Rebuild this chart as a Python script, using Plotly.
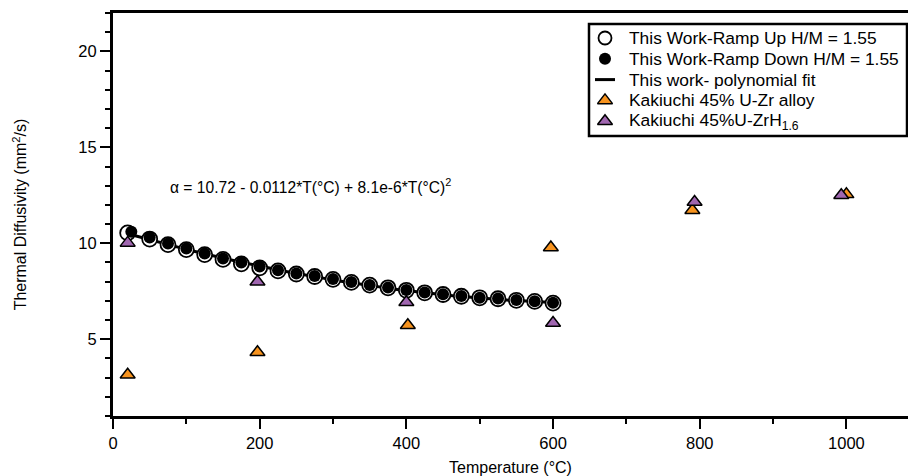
import numpy as np
import plotly.graph_objects as go

# Measured thermal diffusivity, this work (H/M = 1.55)
ramp_up_T = [20, 50, 75, 100, 125, 150, 175, 200, 225, 250, 275, 300,
             325, 350, 375, 400, 425, 450, 475, 500, 525, 550, 575, 600]
ramp_up_alpha = [10.54, 10.22, 9.93, 9.67, 9.41, 9.16, 8.93, 8.72, 8.56, 8.40, 8.27, 8.12,
                 7.96, 7.82, 7.68, 7.55, 7.42, 7.33, 7.24, 7.16, 7.11, 7.03, 6.97, 6.88]

ramp_down_T = [25, 50, 75, 100, 125, 150, 175, 200, 225, 250, 275, 300,
               325, 350, 375, 400, 425, 450, 475, 500, 525, 550, 575, 600]
ramp_down_alpha = [10.60, 10.30, 9.99, 9.73, 9.47, 9.21, 9.00, 8.79, 8.60, 8.43, 8.30, 8.14,
                   7.98, 7.83, 7.69, 7.57, 7.44, 7.34, 7.25, 7.16, 7.12, 7.04, 6.98, 6.90]

# Polynomial fit coefficients: alpha = c0 + c1*T + c2*T^2
fit_c0, fit_c1, fit_c2 = 10.72, -0.0112, 8.1e-6
fit_T_min, fit_T_max = 20, 600

# Kakiuchi reference data
uzr_T = [20, 197, 402, 597, 790, 1000]
uzr_alpha = [3.15, 4.32, 5.73, 9.78, 11.72, 12.55]

uzrh_T = [20, 197, 400, 600, 793, 993]
uzrh_alpha = [10.02, 8.0, 6.93, 5.85, 12.15, 12.5]

# Legend entries (label, style key)
legend_labels = [
    "This Work-Ramp Up H/M = 1.55",
    "This Work-Ramp Down H/M = 1.55",
    "This work- polynomial fit",
    "Kakiuchi 45% U-Zr alloy",
    "Kakiuchi 45%U-ZrH<sub>1.6</sub>",
]

FONT = "Helvetica, Arial, Liberation Sans, sans-serif"
ORANGE = "#F7931E"
PURPLE = "#A066B0"

W, H = 908, 476
M_L, M_R, M_T, M_B = 113, 0, 13, 60

style_up = dict(symbol="circle", size=15, color="white", line=dict(color="black", width=1.8))
style_down = dict(symbol="circle", size=12, color="black", line=dict(color="black", width=0))
style_uzr = dict(symbol="triangle-up", size=13, color=ORANGE, line=dict(color="black", width=1.5))
style_uzrh = dict(symbol="triangle-up", size=13, color=PURPLE, line=dict(color="black", width=1.5))
style_fit = dict(color="black", width=3)

fit_T = np.linspace(fit_T_min, fit_T_max, 200)
fit_alpha = fit_c0 + fit_c1 * fit_T + fit_c2 * fit_T ** 2

fig = go.Figure()

fig.add_trace(go.Scatter(x=fit_T, y=fit_alpha, mode="lines", line=style_fit,
                         name=legend_labels[2], showlegend=False))
fig.add_trace(go.Scatter(x=ramp_up_T, y=ramp_up_alpha, mode="markers", marker=style_up,
                         name=legend_labels[0], showlegend=False))
fig.add_trace(go.Scatter(x=ramp_down_T, y=ramp_down_alpha, mode="markers", marker=style_down,
                         name=legend_labels[1], showlegend=False))
fig.add_trace(go.Scatter(x=uzr_T, y=uzr_alpha, mode="markers", marker=style_uzr,
                         name=legend_labels[3], showlegend=False))
fig.add_trace(go.Scatter(x=uzrh_T, y=uzrh_alpha, mode="markers", marker=style_uzrh,
                         name=legend_labels[4], showlegend=False))

# Legend box drawn on an overlay axis pair measured in pixels
box_x0, box_x1, box_y0, box_y1 = 589, 907, 24, 136
sym_x, txt_x = 605, 627
row_y0, row_dy = 38, 20.8

fig.add_shape(type="rect", xref="x2", yref="y2",
              x0=box_x0, x1=box_x1, y0=box_y0, y1=box_y1,
              line=dict(color="black", width=2.5), fillcolor="white", layer="below")

symbol_styles = [style_up, style_down, None, style_uzr, style_uzrh]
for i, (label, st) in enumerate(zip(legend_labels, symbol_styles)):
    ry = row_y0 + i * row_dy
    if st is None:
        fig.add_trace(go.Scatter(x=[sym_x - 10, sym_x + 10], y=[ry, ry], mode="lines",
                                 line=style_fit, xaxis="x2", yaxis="y2",
                                 showlegend=False, hoverinfo="skip"))
    else:
        fig.add_trace(go.Scatter(x=[sym_x], y=[ry], mode="markers",
                                 marker=dict(st, size=min(st["size"], 13)),
                                 xaxis="x2", yaxis="y2",
                                 showlegend=False, hoverinfo="skip"))
    fig.add_annotation(x=txt_x, y=ry, xref="x2", yref="y2",
                       xanchor="left", yanchor="middle", showarrow=False,
                       text=label, font=dict(family=FONT, size=17.4, color="black"))

fig.add_annotation(
    x=75, y=13.0, xref="x", yref="y",
    xanchor="left", yanchor="middle", showarrow=False,
    text="α = 10.72 - 0.0112*T(°C) + 8.1e-6*T(°C)<sup>2</sup>",
    font=dict(family=FONT, size=15.6, color="black"),
)

fig.update_layout(
    width=W, height=H,
    margin=dict(l=M_L, r=M_R, t=M_T, b=M_B),
    paper_bgcolor="white", plot_bgcolor="white",
    font=dict(family=FONT, size=16.5, color="black"),
    showlegend=False,
    xaxis=dict(
        range=[0, 1084], dtick=200, tick0=0,
        showgrid=False, zeroline=False,
        showline=True, linecolor="black", linewidth=3, mirror=True,
        ticks="outside", ticklen=10, tickwidth=2, tickcolor="black",
        minor=dict(dtick=100, ticks="outside", ticklen=5, tickwidth=2,
                   tickcolor="black", showgrid=False),
        tickfont=dict(family=FONT, size=16.5),
        title=dict(text="Temperature (°C)", standoff=12,
                   font=dict(family=FONT, size=16)),
    ),
    yaxis=dict(
        range=[1, 22], dtick=5, tick0=0,
        showgrid=False, zeroline=False,
        showline=True, linecolor="black", linewidth=3, mirror=False,
        ticks="outside", ticklen=10, tickwidth=2, tickcolor="black",
        minor=dict(dtick=1, ticks="outside", ticklen=5, tickwidth=2,
                   tickcolor="black", showgrid=False),
        tickfont=dict(family=FONT, size=16.5),
        title=dict(text="Thermal Diffusivity (mm<sup>2</sup>/s)", standoff=48,
                   font=dict(family=FONT, size=16)),
    ),
    xaxis2=dict(overlaying="x", range=[M_L, W - M_R], visible=False, fixedrange=True),
    yaxis2=dict(overlaying="y", range=[H - M_B, M_T], visible=False, fixedrange=True),
)

fig.write_html("out.html")
